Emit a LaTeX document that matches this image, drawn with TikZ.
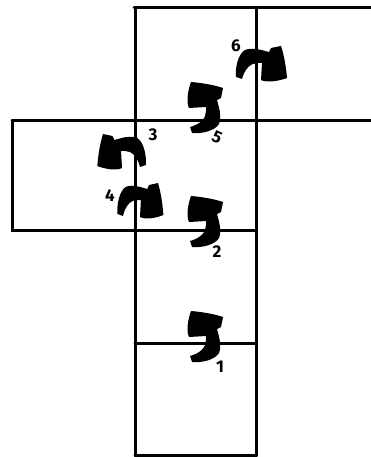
\documentclass[tikz,border=0pt]{standalone}
\usepackage{fontspec}
\setmainfont{Fira Sans}
\tikzset{
  edge/.style={line width=3pt, line cap=round, black},
  lbl/.style={font=\fontsize{17}{17}\selectfont\bfseries, inner sep=0pt},
}
\newcommand{\turnarrow}{%
  \fill (-14,-26) .. controls (-2,-25) and (9,-23) .. (18,-20) -- (16,-10) -- (12,-8)
    .. controls (14,0) and (17,8) .. (14,16) .. controls (10,23) and (-4,26) .. (-13,25)
    -- (-15,19) .. controls (-4,16) and (1,10) .. (1,3) -- (1,-1) -- (-16,0)
    .. controls (-19,-6) and (-17,-18) .. (-14,-26) -- cycle;}
\begin{document}
\begin{tikzpicture}[x=1pt,y=-1pt]
\useasboundingbox (0,0) rectangle (370,457);
\fill[white] (0,0) rectangle (370,457);
% grid lines
\coordinate (tl) at (134,8);
\coordinate (tr) at (371,8);
\coordinate (ml) at (12,121);
\coordinate (mr) at (371,121);
\draw[edge] (tl) -- (tr);
\draw[edge] (135,8) -- (135,456);
\draw[edge] (256,8) -- (256,456);
\draw[edge] (ml) -- (mr);
\draw[edge] (12,121) -- (12,230) -- (256,230);
\draw[edge] (135,343) -- (256,343);
\draw[edge] (135,455) -- (256,455);
% arrows
\begin{scope}[shift={(205,337)}]\turnarrow\end{scope}
\begin{scope}[shift={(205,222)}]\turnarrow\end{scope}
\begin{scope}[shift={(205,108)}]\turnarrow\end{scope}
\begin{scope}[cm={0,1,1,0,(261,64)}]\turnarrow\end{scope}
\begin{scope}[cm={0,1,0.9,0,(140,201)}]\turnarrow\end{scope}
\begin{scope}[cm={0,1,-0.95,0,(122,152)}]\turnarrow\end{scope}
% labels
\node[lbl] (l1) at (220,367) {1};
\node[lbl] (l2) at (217,252) {2};
\node[lbl, rotate=-25] (l5) at (217,137) {5};
\node[lbl] (l6) at (236,46) {6};
\node[lbl] (l3) at (153,135) {3};
\node[lbl] (l4) at (110,196) {4};
\end{tikzpicture}
\end{document}
